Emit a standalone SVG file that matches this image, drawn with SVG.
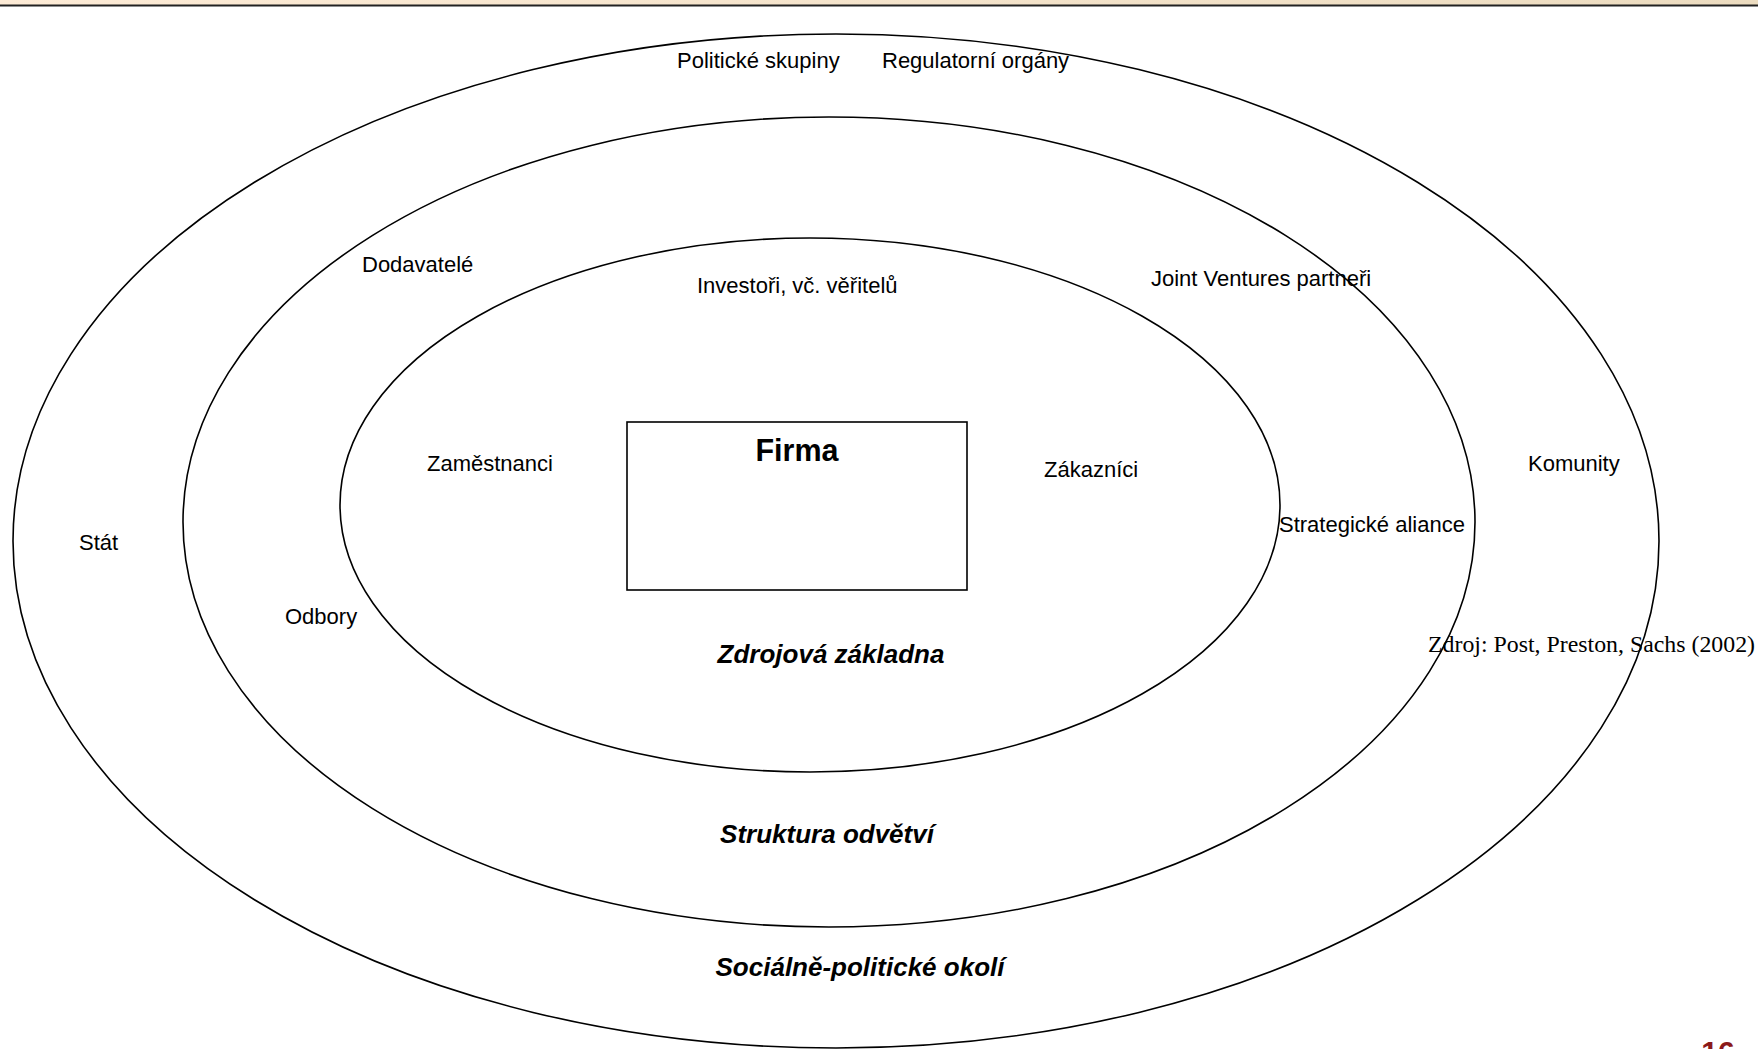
<svg xmlns="http://www.w3.org/2000/svg" width="1758" height="1049" viewBox="0 0 1758 1049">
  <defs>
    <linearGradient id="band" x1="0" y1="0" x2="1" y2="0">
      <stop offset="0" stop-color="#fdebd6"/>
      <stop offset="1" stop-color="#ecdcc0"/>
    </linearGradient>
    <style>
      .ring { fill: none; stroke: #000; stroke-width: 1.6; }
      .lbl { font-family: "Liberation Sans", Arial, sans-serif; font-size: 22px; fill: #000; }
      .zone { font-family: "Liberation Sans", Arial, sans-serif; font-size: 26px; font-weight: bold; font-style: italic; fill: #000; text-anchor: middle; }
      .src { font-family: "Liberation Serif", "Times New Roman", serif; font-size: 23px; fill: #000; }
    </style>
  </defs>

  <rect x="0" y="0" width="1758" height="1049" fill="#fff"/>
  <!-- header band -->
  <rect x="0" y="0" width="1758" height="5" fill="url(#band)"/>
  <rect x="0" y="4.5" width="1758" height="2" fill="#222"/>

  <!-- concentric stakeholder rings -->
  <g id="ring-social">
    <ellipse class="ring" cx="836" cy="541" rx="823" ry="507"/>
    <text class="zone" x="860" y="976">Sociálně-politické okolí</text>
    <text class="lbl" x="677" y="68">Politické skupiny</text>
    <text class="lbl" x="882" y="68">Regulatorní orgány</text>
    <text class="lbl" x="79" y="550">Stát</text>
    <text class="lbl" x="1528" y="471">Komunity</text>
  </g>

  <g id="ring-industry">
    <ellipse class="ring" cx="829" cy="522" rx="646" ry="405"/>
    <text class="zone" x="827" y="843">Struktura odvětví</text>
    <text class="lbl" x="362" y="272">Dodavatelé</text>
    <text class="lbl" x="1151" y="286">Joint Ventures partneři</text>
    <text class="lbl" x="1279" y="532">Strategické aliance</text>
    <text class="lbl" x="285" y="624">Odbory</text>
  </g>

  <g id="ring-resources">
    <ellipse class="ring" cx="810" cy="505" rx="470" ry="267"/>
    <text class="zone" x="831" y="663">Zdrojová základna</text>
    <text class="lbl" x="697" y="293">Investoři, vč. věřitelů</text>
    <text class="lbl" x="427" y="471">Zaměstnanci</text>
    <text class="lbl" x="1044" y="477">Zákazníci</text>
  </g>

  <g id="firma">
    <rect x="627" y="422" width="340" height="168" fill="#fff" stroke="#000" stroke-width="1.6"/>
    <text x="797" y="461" font-family="Liberation Sans, Arial, sans-serif" font-size="30.5" font-weight="bold" text-anchor="middle">Firma</text>
  </g>

  <g id="connectors"/>

  <text class="src" x="1428" y="652" textLength="327" lengthAdjust="spacingAndGlyphs">Zdroj: Post, Preston, Sachs (2002)</text>
  <text x="1718" y="1062" font-family="Liberation Sans, Arial, sans-serif" font-size="30" font-weight="bold" fill="#8b1a1a" text-anchor="middle">16</text>
</svg>
